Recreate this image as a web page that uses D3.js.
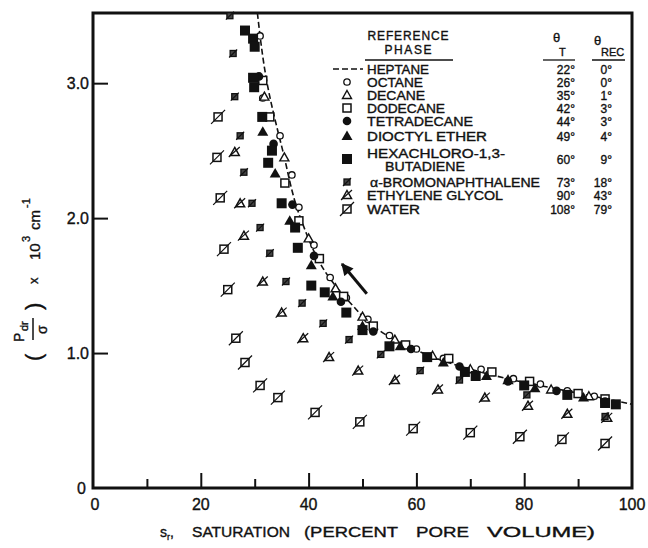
<!DOCTYPE html>
<html>
<head>
<meta charset="utf-8">
<script src="https://cdn.jsdelivr.net/npm/d3@7"></script>
<style>
  html, body { margin: 0; padding: 0; background: #fff; }
  svg { display: block; }
  text { font-family: "Liberation Sans", Arial, sans-serif; fill: #111; stroke: #111; stroke-width: 0.35px; }
</style>
</head>
<body>
<svg id="chart" width="648" height="548"></svg>
<script>
// Drainage capillary pressure (reduced) vs. saturation for several reference phases
const xTicksMajor = [0, 20, 40, 60, 80, 100];
const xTicksMinor = [10, 30, 50, 70, 90];
const yTicks = [0, 1, 2, 3];
const yTickLabels = ["0", "1.0", "2.0", "3.0"];

// Heptane reference curve (dashed)
const heptane = [[30.5,3.52],[32.3,3.0],[35.2,2.5],[38.5,2.0],[44,1.55],[48,1.36],[53,1.17],[60,1.02],[67.5,0.91],[78,0.80],[86.6,0.73],[96.5,0.65],[100,0.62]];

const octane = [[31,3.35],[31.5,2.89],[34.7,2.61],[36.9,2.32],[38.2,2.08],[41,1.8],[44,1.56],[47,1.41],[51,1.25],[55,1.13],[60,1.03],[65,0.96],[72,0.88],[78,0.81],[83,0.77],[88,0.72],[93,0.68]];
const decane = [[31.8,2.9],[35.5,2.45],[40,1.85],[45,1.48],[50,1.27],[56,1.1],[63,0.98],[70,0.88],[77,0.8],[85,0.73],[92,0.68]];
const dodecane = [[31.5,3.02],[32.8,2.75],[35.6,2.26],[38.2,1.98],[42,1.7],[46.5,1.42],[52,1.2],[58,1.06],[66,0.96],[74,0.86],[81,0.79],[90,0.7],[95,0.66]];
const tetradecane = [[30.8,3.05],[33.5,2.55],[37,2.1],[41,1.72],[46,1.38],[52,1.16],[59,1.03],[68,0.9],[77,0.79],[86,0.72],[95,0.64]];
const dioctylEther = [[31.5,2.64],[33.8,2.33],[36.5,1.98],[40.5,1.65],[44.5,1.42],[50,1.2],[57,1.05],[65,0.93],[73,0.83],[82,0.74],[91,0.67]];
const hexachloroButadiene = [[28.2,3.39],[29.7,3.33],[30,3.27],[29.7,3.04],[29.9,2.97],[31.4,2.75],[33.2,2.5],[32.5,2.41],[35,2.11],[37.5,1.93],[38,1.78],[40.5,1.5],[43,1.45],[47,1.3],[50,1.17],[55,1.05],[62,0.97],[69,0.86],[71,0.83],[80,0.76],[88,0.69],[95,0.63],[97,0.62]];
const bromonaphthalene = [[25.4,3.5],[26,3.22],[26.3,2.9],[27.3,2.61],[28,2.34],[29.5,2.11],[31,1.93],[32.8,1.74],[35.8,1.53],[38.8,1.37],[42.7,1.22],[47.5,1.10],[53.4,0.99],[60.7,0.87],[68,0.80],[80.5,0.69],[95,0.53]];
const ethyleneGlycol = [[26.3,2.49],[27.3,2.11],[28,1.87],[31.5,1.53],[35,1.30],[39,1.11],[43.8,0.97],[49.2,0.87],[56,0.80],[64,0.73],[72.7,0.67],[80.7,0.61],[88,0.55],[95.4,0.52]];
const water = [[23.2,2.75],[23,2.45],[23.6,2.15],[24.3,1.77],[25,1.47],[26.5,1.11],[28.2,0.93],[31,0.76],[34.3,0.67],[41.2,0.56],[49.5,0.49],[59.4,0.44],[70,0.41],[79.2,0.38],[87,0.36],[95,0.33]];

// Legend rows: name lines, symbol, theta_T, theta_REC
const legendRows = [
  {lines: ["HEPTANE"], sym: "dash", thetaT: "22°", thetaRec: "0°"},
  {lines: ["OCTANE"], sym: "circleOpen", thetaT: "26°", thetaRec: "0°"},
  {lines: ["DECANE"], sym: "triOpen", thetaT: "35°", thetaRec: "1°"},
  {lines: ["DODECANE"], sym: "squareOpen", thetaT: "42°", thetaRec: "3°"},
  {lines: ["TETRADECANE"], sym: "circleFill", thetaT: "44°", thetaRec: "3°"},
  {lines: ["DIOCTYL  ETHER"], sym: "triFill", thetaT: "49°", thetaRec: "4°"},
  {lines: ["HEXACHLORO-1,3-", "BUTADIENE"], sym: "squareFill", thetaT: "60°", thetaRec: "9°"},
  {lines: ["α-BROMONAPHTHALENE"], sym: "smallSlash", thetaT: "73°", thetaRec: "18°"},
  {lines: ["ETHYLENE  GLYCOL"], sym: "triSlash", thetaT: "90°", thetaRec: "43°"},
  {lines: ["WATER"], sym: "squareSlash", thetaT: "108°", thetaRec: "79°"}
];

const svg = d3.select("#chart");
const x = d3.scaleLinear().domain([0, 100]).range([93, 632]);
const y = d3.scaleLinear().domain([0, 3.52]).range([488, 13]);

// frame
svg.append("rect")
  .attr("x", x(0)).attr("y", y(3.52))
  .attr("width", x(100) - x(0)).attr("height", y(0) - y(3.52))
  .attr("fill", "none").attr("stroke", "#111").attr("stroke-width", 3);

// x axis (ticks point inward)
const gx = svg.append("g").attr("transform", `translate(0,${y(0)})`);
gx.call(d3.axisBottom(x).tickValues(xTicksMajor.filter(d => d > 0 && d < 100)).tickSize(-15).tickFormat(""));
gx.append("g").call(d3.axisBottom(x).tickValues(xTicksMinor).tickSize(-9).tickFormat(""));
gx.selectAll(".domain").remove();
gx.selectAll("line").attr("stroke", "#111").attr("stroke-width", 2);
svg.append("g").selectAll("text").data(xTicksMajor).join("text")
  .attr("x", d => x(d) + (d === 0 ? 2 : 0)).attr("y", y(0) + 22)
  .attr("text-anchor", "middle").attr("font-size", 16).text(d => d);

// y axis
const gy = svg.append("g").attr("transform", `translate(${x(0)},0)`);
gy.call(d3.axisLeft(y).tickValues(yTicks.filter(d => d > 0)).tickSize(-15).tickFormat(""));
gy.selectAll(".domain").remove();
gy.selectAll("line").attr("stroke", "#111").attr("stroke-width", 2);
svg.append("g").selectAll("text").data(yTicks).join("text")
  .attr("x", d => x(0) - (d === 0 ? 7 : 4)).attr("y", d => y(d) + 6)
  .attr("text-anchor", "end").attr("font-size", 16).text((d, i) => yTickLabels[i]);

// axis titles
const xTitleY = 537;
const xs = svg.append("text").attr("x", 160).attr("y", xTitleY).attr("font-size", 14);
xs.append("tspan").text("s");
xs.append("tspan").attr("dy", 3).attr("font-size", 9).text("r");
xs.append("tspan").attr("dy", -3).text(",");
[["SATURATION", 192, 98], ["(PERCENT", 304, 94], ["PORE", 416, 53], ["VOLUME)", 487, 108]].forEach(([w, px, len]) => {
  svg.append("text").attr("x", px).attr("y", xTitleY).attr("font-size", 14)
    .attr("textLength", len).attr("lengthAdjust", "spacingAndGlyphs").text(w);
});

const yt = svg.append("g").attr("transform", "translate(38,262) rotate(-90)");
yt.append("text").attr("x", -99).attr("y", 3).attr("font-size", 22).text("(");
yt.append("text").attr("x", -80).attr("y", -14).attr("font-size", 14).text("P");
yt.append("text").attr("x", -69).attr("y", -10).attr("font-size", 11).text("dr");
yt.append("line").attr("x1", -78).attr("x2", -56).attr("y1", -5).attr("y2", -5).attr("stroke", "#111").attr("stroke-width", 1.5);
yt.append("text").attr("x", -72).attr("y", 9).attr("font-size", 14).text("σ");
yt.append("text").attr("x", -48).attr("y", 3).attr("font-size", 22).text(")");
yt.append("text").attr("x", -22).attr("y", 0).attr("font-size", 13).text("x");
yt.append("text").attr("x", 2).attr("y", 2).attr("font-size", 15).text("10");
yt.append("text").attr("x", 20).attr("y", -8).attr("font-size", 11).text("3");
yt.append("text").attr("x", 32).attr("y", 2).attr("font-size", 15).text("cm");
yt.append("text").attr("x", 54).attr("y", -8).attr("font-size", 11).text("-1");

// heptane dashed curve
svg.append("path").datum(heptane)
  .attr("d", d3.line().x(d => x(d[0])).y(d => y(d[1])).curve(d3.curveMonotoneY))
  .attr("fill", "none").attr("stroke", "#111").attr("stroke-width", 1.6)
  .attr("stroke-dasharray", "6,3");

// marker drawing
function drawSymbol(g, type) {
  switch (type) {
    case "circleOpen":
      g.append("circle").attr("r", 3.2).attr("fill", "#fff").attr("stroke", "#111").attr("stroke-width", 1.3); break;
    case "circleFill":
      g.append("circle").attr("r", 4.3).attr("fill", "#111"); break;
    case "triOpen":
      g.append("path").attr("d", "M0,-4.5L4.5,3.5L-4.5,3.5Z").attr("fill", "#fff").attr("stroke", "#111").attr("stroke-width", 1.4); break;
    case "triFill":
      g.append("path").attr("d", "M0,-5.5L5.5,4L-5.5,4Z").attr("fill", "#111"); break;
    case "squareOpen":
      g.append("rect").attr("x", -4).attr("y", -4).attr("width", 8).attr("height", 8).attr("fill", "#fff").attr("stroke", "#111").attr("stroke-width", 1.5); break;
    case "squareFill":
      g.append("rect").attr("x", -5).attr("y", -5).attr("width", 10).attr("height", 10).attr("fill", "#111"); break;
    case "smallSlash":
      g.append("rect").attr("x", -3).attr("y", -3).attr("width", 6).attr("height", 6).attr("fill", "#444").attr("stroke", "#111").attr("stroke-width", 1.3);
      g.append("line").attr("x1", -4).attr("y1", 4).attr("x2", 4).attr("y2", -4).attr("stroke", "#111").attr("stroke-width", 1.2); break;
    case "triSlash":
      g.append("path").attr("d", "M0,-4.5L4.5,3.5L-4.5,3.5Z").attr("fill", "#fff").attr("stroke", "#111").attr("stroke-width", 1.5);
      g.append("line").attr("x1", -6).attr("y1", 5).attr("x2", 5).attr("y2", -5).attr("stroke", "#111").attr("stroke-width", 1.2); break;
    case "squareSlash":
      g.append("rect").attr("x", -4).attr("y", -4).attr("width", 8).attr("height", 8).attr("fill", "#fff").attr("stroke", "#111").attr("stroke-width", 1.5);
      g.append("line").attr("x1", -7).attr("y1", 7).attr("x2", 7).attr("y2", -7).attr("stroke", "#111").attr("stroke-width", 1.2); break;
  }
}

const seriesList = [
  [water, "squareSlash"], [ethyleneGlycol, "triSlash"], [bromonaphthalene, "smallSlash"],
  [octane, "circleOpen"], [decane, "triOpen"], [dodecane, "squareOpen"],
  [tetradecane, "circleFill"], [dioctylEther, "triFill"], [hexachloroButadiene, "squareFill"]
];
seriesList.forEach(([data, type]) => {
  svg.append("g").selectAll("g").data(data).join("g")
    .attr("transform", d => `translate(${x(d[0])},${y(d[1])})`)
    .each(function () { drawSymbol(d3.select(this), type); });
});

// direction arrow
const arrowFrom = [50.8, 1.44], arrowTo = [46.2, 1.66];
svg.append("defs").append("marker").attr("id", "head")
  .attr("viewBox", "0 0 10 10").attr("refX", 9).attr("refY", 5)
  .attr("markerWidth", 4.5).attr("markerHeight", 4).attr("orient", "auto")
  .append("path").attr("d", "M0,0L10,5L0,10Z").attr("fill", "#111");
svg.append("line")
  .attr("x1", x(arrowFrom[0])).attr("y1", y(arrowFrom[1]))
  .attr("x2", x(arrowTo[0])).attr("y2", y(arrowTo[1]))
  .attr("stroke", "#111").attr("stroke-width", 3).attr("marker-end", "url(#head)");

// legend
const lg = svg.append("g");
const fs = 12;
lg.append("text").attr("x", 408).attr("y", 40).attr("text-anchor", "middle").attr("font-size", fs).attr("textLength", 81).text("REFERENCE");
lg.append("text").attr("x", 408).attr("y", 54).attr("text-anchor", "middle").attr("font-size", fs).attr("textLength", 47).text("PHASE");
lg.append("line").attr("x1", 365).attr("x2", 453).attr("y1", 60).attr("y2", 60).attr("stroke", "#111").attr("stroke-width", 1.3);
lg.append("text").attr("x", 553).attr("y", 42).attr("font-size", 13).text("θ");
lg.append("text").attr("x", 559).attr("y", 56).attr("font-size", 11).text("T");
lg.append("text").attr("x", 594).attr("y", 45).attr("font-size", 13).text("θ");
lg.append("text").attr("x", 601).attr("y", 56).attr("font-size", 11).text("REC");
lg.append("line").attr("x1", 543).attr("x2", 575).attr("y1", 60).attr("y2", 60).attr("stroke", "#111").attr("stroke-width", 1.3);
lg.append("line").attr("x1", 592).attr("x2", 625).attr("y1", 60).attr("y2", 60).attr("stroke", "#111").attr("stroke-width", 1.3);

const rowY = [69, 82, 95, 108, 121, 136, 153, 182, 195, 209];
const nameLen = [62, 56, 58, 78, 106, 120, 138, 173, 136, 53];
legendRows.forEach((r, i) => {
  const cy = rowY[i];
  if (r.sym === "dash") {
    lg.append("line").attr("x1", 333).attr("x2", 363).attr("y1", cy).attr("y2", cy)
      .attr("stroke", "#111").attr("stroke-width", 1.6).attr("stroke-dasharray", "6,3");
  } else {
    const symY = r.lines.length > 1 ? cy + 6 : cy;
    const g = lg.append("g").attr("transform", `translate(347,${symY})`);
    drawSymbol(g, r.sym);
  }
  r.lines.forEach((ln, j) => {
    const t = lg.append("text").attr("x", j === 0 ? (i === 7 ? 370 : 367) : 385).attr("y", cy + 5 + j * 13)
      .attr("font-size", fs).text(ln);
    t.attr("textLength", j === 0 ? (i === 7 ? 170 : nameLen[i]) : 80).attr("lengthAdjust", "spacingAndGlyphs");
  });
  const ty = r.lines.length > 1 ? cy + 11 : cy + 5;
  lg.append("text").attr("x", 575).attr("y", ty).attr("text-anchor", "end").attr("font-size", fs).text(r.thetaT);
  lg.append("text").attr("x", 612).attr("y", ty).attr("text-anchor", "end").attr("font-size", fs).text(r.thetaRec);
});
</script>
</body>
</html>
